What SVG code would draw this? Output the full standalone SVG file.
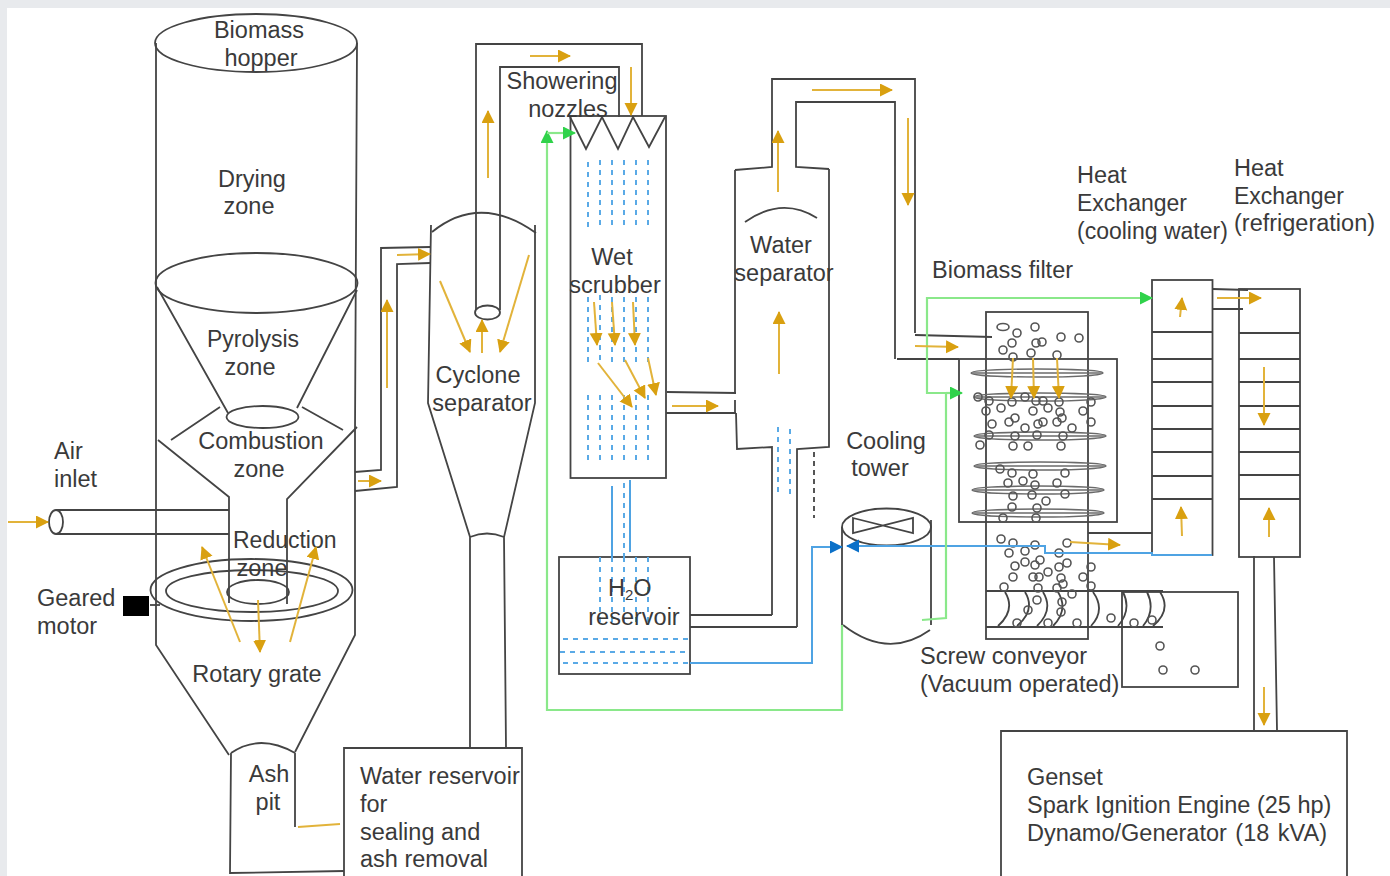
<svg xmlns="http://www.w3.org/2000/svg" width="1390" height="876" viewBox="0 0 1390 876">
<style>
text{font-family:"Liberation Sans",Arial,sans-serif;font-size:23.5px;fill:#3a3a3a}
.s{font-size:23px}
.m{text-anchor:middle}
.l,.l *{fill:none;stroke:#444;stroke-width:1.8}
.b{fill:none;stroke:#444;stroke-width:1.8}
.t,.t *{fill:none;stroke:#6a6a6a;stroke-width:1.4}
.y{fill:none;stroke:#e2b33a;stroke-width:2;marker-end:url(#ya)}
.yn{fill:none;stroke:#e2b33a;stroke-width:2}
.g{fill:none;stroke:#8ae88a;stroke-width:2.2}
.u{fill:none;stroke:#4fa3e3;stroke-width:2}
.d{fill:none;stroke:#5aaae6;stroke-width:2;stroke-dasharray:5 5}
.k{fill:none;stroke:#555;stroke-width:2;stroke-dasharray:5 4}
.p circle,.p ellipse{fill:none;stroke:#555;stroke-width:1.6}
</style>
<defs>
<marker id="ya" markerUnits="userSpaceOnUse" markerWidth="14" markerHeight="14" refX="12" refY="6.5" orient="auto"><path d="M0,0L13,6.5L0,13Z" fill="#d9a010"/></marker>
<marker id="ga" markerUnits="userSpaceOnUse" markerWidth="14" markerHeight="14" refX="12" refY="6.5" orient="auto"><path d="M0,0L13,6.5L0,13Z" fill="#2fd24a"/></marker>
<marker id="ba" markerUnits="userSpaceOnUse" markerWidth="14" markerHeight="14" refX="12" refY="6.5" orient="auto"><path d="M0,0L13,6.5L0,13Z" fill="#0b70c8"/></marker>
</defs>
<rect width="1390" height="876" fill="#e8eaed"/>
<rect x="7" y="8" width="1383" height="868" fill="#fff"/>

<g id="gasifier">
<g class="l">
<ellipse cx="256" cy="43" rx="101" ry="29"/>
<path d="M156,43V645L229,755M357,43L355,432V635L295,752"/>
<ellipse cx="256.500" cy="283" rx="101" ry="30"/>
<path d="M157,287L228,413M357,290L297,408"/>
<ellipse cx="262.500" cy="417" rx="36" ry="11"/>
<path d="M220,407L171,440M302,407L343,430"/>
<path d="M158,440L229,497V603M357,427L287,499V604"/>
<ellipse cx="251.500" cy="590" rx="101" ry="31"/>
<ellipse cx="252" cy="591" rx="86" ry="21"/>
<ellipse cx="258" cy="592" rx="31" ry="12"/>
<path d="M231,753Q260,733 295,753M231,753L230,873L344,871M295,753V827"/>
<path d="M150,605H160"/>
</g>
<rect x="123" y="596" width="26" height="20" fill="#000"/>
<text class="m" x="259" y="38">Biomass</text><text class="m" x="261" y="66">hopper</text>
<text class="m" x="252" y="187">Drying</text><text class="m" x="249" y="214">zone</text>
<text class="m s" x="253" y="347">Pyrolysis</text><text class="m" x="250" y="375">zone</text>
<text class="m" x="261" y="449">Combustion</text><text class="m" x="259" y="477">zone</text>
<text class="s" x="233" y="548">Reduction</text><text class="m" x="262" y="576">zone</text>
<text x="37" y="606">Geared</text><text x="37" y="634">motor</text>
<text class="m" x="257" y="682">Rotary grate</text>
<text class="m" x="269" y="782">Ash</text><text class="m" x="268" y="810">pit</text>
</g>

<g id="air-inlet">
<g class="l"><ellipse cx="56" cy="522" rx="7" ry="12"/><path d="M56,510H229M56,534H229"/></g>
<text x="54" y="459">Air</text><text x="54" y="487">inlet</text>
</g>

<g id="water-reservoir">
<path class="b" d="M344,880V748H522V880"/>
<text x="360" y="784">Water reservoir</text><text x="360" y="812">for</text><text x="360" y="840">sealing and</text><text x="360" y="867">ash removal</text>
</g>

<g id="cyclone">
<g class="l">
<path d="M432,232Q480,193 536,233"/>
<path d="M431,225L428,403L470,537V748M535,225V403L504,537L506,748M470,537Q487,530 504,537"/>
<ellipse cx="487.500" cy="312.500" rx="12.500" ry="7"/>
</g>
<text class="m" x="478" y="383">Cyclone</text><text class="m" x="482" y="411">separator</text>
</g>

<g id="scrubber">
<rect class="b" x="570.500" y="116" width="95.500" height="362"/>
<path class="b" d="M570,117L586,149L602,117L618,149L633,117L649,147L665,117"/>
<g class="d">
<path d="M588,162V230M600,160V230M612,160V230M624,160V230M636,160V230M648,160V230"/>
<path d="M588,297V363M600,295V363M612,297V363M624,297V363M636,297V363M648,297V363"/>
<path d="M588,395V463M600,395V463M612,395V463M624,395V463M636,395V463M648,395V463"/>
</g>
<text class="m" x="562" y="89">Showering</text><text class="m" x="568" y="117">nozzles</text>
<text class="m" x="612" y="265">Wet</text><text class="m" x="615" y="293">scrubber</text>
</g>

<g id="water-separator">
<path class="b" d="M735,170V392M735,400V413M736,413L737,449L772,447V615M829,169V447L797,449V627M735,170L772,167V79H915V333M829,169L796,167V102H895V359"/>
<path class="b" d="M745,222Q782,196 817,218"/>
<path class="d" d="M778,427V493M790,429V497"/>
<path class="k" d="M814,452V518"/>
<text class="m" x="781" y="253">Water</text><text class="m" x="784" y="281">separator</text>
</g>

<g id="h2o-reservoir">
<rect class="b" x="559" y="557" width="131" height="117"/>
<g class="d">
<path d="M600,557V623M612,557V623M624,557V623M636,557V623M648,557V623"/>
<path d="M563,639H689M560,652H685M563,663H689"/>
</g>
<text x="608" y="596">H<tspan font-size="15" dy="4">2</tspan><tspan dy="-4">O</tspan></text>
<text class="m" x="634" y="625">reservoir</text>
</g>

<g id="cooling-tower">
<g class="l">
<ellipse cx="886.500" cy="527" rx="44.500" ry="18.500"/>
<path d="M842,527V625M931,520V625"/>
<path d="M843,625Q888,660 930,630"/>
<path d="M853,518L913,533V518L853,533Z"/>
</g>
<text class="m" x="886" y="449">Cooling</text><text class="m" x="880" y="476">tower</text>
</g>

<g id="biomass-filter">
<g class="l">
<rect x="986" y="312" width="102" height="327"/>
<rect x="959" y="359" width="158" height="163"/>
<path d="M986,591H1163M986,627H1163"/>
<rect x="1122" y="592" width="116" height="95"/>
</g>
<g class="t">
<ellipse cx="1037" cy="373" rx="66" ry="4"/><path d="M971,373H1103"/>
<ellipse cx="1040" cy="397" rx="66" ry="4"/><path d="M974,397H1106"/>
<ellipse cx="1040" cy="436" rx="66" ry="4"/><path d="M974,436H1106"/>
<ellipse cx="1040" cy="466" rx="66" ry="4"/><path d="M974,466H1106"/>
<ellipse cx="1038" cy="490" rx="66" ry="4"/><path d="M972,490H1104"/>
<ellipse cx="1038" cy="513" rx="66" ry="4"/><path d="M972,513H1104"/>
</g>
<path class="b" d="M1005,592Q1016,610 998,626M1025,592Q1036,610 1017,626M1043,592Q1054,610 1037,626M1058,592Q1069,610 1053,626M1093,592Q1106,610 1091,626M1123,592Q1132,610 1118,626M1147,592Q1156,610 1143,626M1160,592Q1172,610 1153,626"/>
<g class="p">
<ellipse cx="1003" cy="327" rx="6" ry="3.500"/>
<circle cx="1035" cy="327" r="4"/><circle cx="1017" cy="333" r="4"/><circle cx="1012" cy="343" r="4"/><circle cx="1042" cy="342" r="4"/><circle cx="1036" cy="343" r="4"/><circle cx="1061" cy="337" r="4"/><circle cx="1079" cy="338" r="4"/><circle cx="1003" cy="350" r="4"/><circle cx="1031" cy="353" r="4"/><circle cx="1013" cy="357" r="4"/><circle cx="1057" cy="355" r="4"/>
<circle cx="978" cy="397" r="4"/><circle cx="989" cy="401" r="4"/><circle cx="1025" cy="397" r="4"/><circle cx="1036" cy="401" r="4"/><circle cx="1043" cy="401" r="4"/><circle cx="1012" cy="402" r="4"/><circle cx="1059" cy="402" r="4"/><circle cx="1091" cy="402" r="4"/><circle cx="986" cy="411" r="4"/><circle cx="1001" cy="408" r="4"/><circle cx="1033" cy="411" r="4"/><circle cx="1048" cy="408" r="4"/><circle cx="1060" cy="412" r="4"/><circle cx="1083" cy="411" r="4"/><circle cx="1015" cy="418" r="4"/><circle cx="1062" cy="418" r="4"/><circle cx="992" cy="424" r="4"/><circle cx="1009" cy="422" r="4"/><circle cx="1043" cy="422" r="4"/><circle cx="1057" cy="422" r="4"/><circle cx="1038" cy="424" r="4"/><circle cx="1025" cy="428" r="4"/><circle cx="1072" cy="428" r="4"/><circle cx="1091" cy="422" r="4"/><circle cx="989" cy="435" r="4"/><circle cx="1015" cy="436" r="4"/><circle cx="1037" cy="435" r="4"/><circle cx="1063" cy="436" r="4"/><circle cx="980" cy="445" r="4"/><circle cx="1013" cy="446" r="4"/><circle cx="1028" cy="446" r="4"/><circle cx="1061" cy="446" r="4"/>
<circle cx="1000" cy="469" r="4"/><circle cx="1012" cy="473" r="4"/><circle cx="1033" cy="474" r="4"/><circle cx="1065" cy="473" r="4"/><circle cx="1023" cy="481" r="4"/><circle cx="1008" cy="483" r="4"/><circle cx="1035" cy="485" r="4"/><circle cx="1057" cy="483" r="4"/><circle cx="1013" cy="496" r="4"/><circle cx="1032" cy="495" r="4"/><circle cx="1065" cy="494" r="4"/><circle cx="1046" cy="501" r="4"/><circle cx="1012" cy="507" r="4"/><circle cx="1037" cy="508" r="4"/><circle cx="1003" cy="518" r="4"/><circle cx="1036" cy="518" r="4"/>
<circle cx="1001" cy="539" r="4"/><circle cx="1013" cy="543" r="4"/><circle cx="1035" cy="545" r="4"/><circle cx="1067" cy="543" r="4"/><circle cx="1025" cy="551" r="4"/><circle cx="1009" cy="553" r="4"/><circle cx="1059" cy="553" r="4"/><circle cx="1040" cy="560" r="4"/><circle cx="1025" cy="562" r="4"/><circle cx="1015" cy="566" r="4"/><circle cx="1035" cy="565" r="4"/><circle cx="1067" cy="563" r="4"/><circle cx="1059" cy="567" r="4"/><circle cx="1091" cy="567" r="4"/><circle cx="1048" cy="572" r="4"/><circle cx="1013" cy="577" r="4"/><circle cx="1033" cy="577" r="4"/><circle cx="1039" cy="577" r="4"/><circle cx="1061" cy="578" r="4"/><circle cx="1083" cy="577" r="4"/><circle cx="1063" cy="584" r="4"/><circle cx="1004" cy="587" r="4"/><circle cx="1038" cy="588" r="4"/><circle cx="1057" cy="588" r="4"/><circle cx="1091" cy="586" r="4"/><circle cx="1072" cy="594" r="4"/><circle cx="1037" cy="600" r="4"/><circle cx="1062" cy="602" r="4"/><circle cx="1028" cy="610" r="4"/><circle cx="1061" cy="612" r="4"/><circle cx="1111" cy="618" r="4"/><circle cx="1152" cy="620" r="4"/><circle cx="1017" cy="623" r="4"/><circle cx="1048" cy="623" r="4"/><circle cx="1077" cy="623" r="4"/><circle cx="1134" cy="623" r="4"/><circle cx="1160" cy="646" r="4"/><circle cx="1163" cy="670" r="4"/><circle cx="1195" cy="670" r="4"/>
</g>
<text x="932" y="278">Biomass filter</text>
<text x="920" y="664">Screw conveyor</text><text x="920" y="692">(Vacuum operated)</text>
</g>

<g id="heat-exchanger-1">
<rect class="b" x="1152" y="280" width="60.500" height="275"/>
<path class="b" d="M1152,332H1212M1152,359H1212M1152,382H1212M1152,406H1212M1152,429H1212M1152,452H1212M1152,476H1212M1152,499H1212"/>
<text x="1077" y="183">Heat</text><text class="s" x="1077" y="211">Exchanger</text><text class="s" x="1077" y="239">(cooling water)</text>
</g>

<g id="heat-exchanger-2">
<rect class="b" x="1239" y="289" width="61" height="268"/>
<path class="b" d="M1239,333H1300M1239,359H1300M1239,382H1300M1239,406H1300M1239,429H1300M1239,452H1300M1239,475H1300M1239,499H1300"/>
<text x="1234" y="176">Heat</text><text class="s" x="1234" y="204">Exchanger</text><text x="1234" y="231">(refrigeration)</text>
</g>

<g id="genset">
<path class="b" d="M1001,880V731H1347V880"/>
<text x="1027" y="785">Genset</text><text x="1027" y="813">Spark Ignition Engine (25 hp)</text><text x="1027" y="841" word-spacing="2">Dynamo/Generator (18 kVA)</text>
</g>

<g id="connectors">
<g class="b">
<path d="M355,472L381,470V248L430,247M355,491L397,487V264L430,263"/>
<path d="M476,310V44H642V116M500,310V67H619V117"/>
<path d="M667,392L736,393M666,413H736"/>
<path d="M690,615H772M690,627H797"/>
<path d="M915,335L992,337M897,359H959"/>
<path d="M1088,533H1152"/>
<path d="M1213,289L1248,290M1213,309H1243"/>
<path d="M1254,556V730M1274,557L1277,730"/>
</g>
<g>
<path class="u" d="M612,486V557M630,480V552"/>
<path class="d" d="M624,483V557"/>
<path class="u" d="M690,663H812V547H842" marker-end="url(#ba)"/>
<path class="u" d="M1212,555H1152V553H1045V546H847" marker-end="url(#ba)"/>
</g>
<g>
<path class="g" d="M842,625V710H547V131" marker-end="url(#ga)"/>
<path class="g" d="M547,133H575" marker-end="url(#ga)"/>
<path class="g" d="M922,620L946,618V393H927V298H1152" marker-end="url(#ga)"/>
<path class="g" d="M946,393H962" marker-end="url(#ga)"/>
</g>
<g>
<path class="y" d="M8,522H48"/>
<path class="y" d="M240,642L202,547"/>
<path class="y" d="M258,600L260,652"/>
<path class="y" d="M290,642L316,547"/>
<path class="yn" d="M298,827L340,824"/>
<path class="y" d="M358,481H381"/>
<path class="y" d="M387,388V300"/>
<path class="y" d="M397,255L430,254"/>
<path class="y" d="M440,281L470,352"/>
<path class="y" d="M482,353V320"/>
<path class="y" d="M529,255L500,352"/>
<path class="y" d="M488,178V111"/>
<path class="y" d="M530,56H570"/>
<path class="y" d="M631,67V115"/>
<path class="y" d="M594,302L597,345"/>
<path class="y" d="M612,302L615,345"/>
<path class="y" d="M633,302L635,345"/>
<path class="y" d="M598,363L632,407"/>
<path class="y" d="M625,360L645,398"/>
<path class="y" d="M648,358L656,395"/>
<path class="y" d="M672,406H718"/>
<path class="y" d="M778,192V131"/>
<path class="y" d="M779,374V312"/>
<path class="y" d="M812,90H892"/>
<path class="y" d="M908,118V205"/>
<path class="y" d="M915,346L958,347"/>
<path class="y" d="M1013,358L1011,398"/>
<path class="y" d="M1033,358L1034,398"/>
<path class="y" d="M1057,358L1059,398"/>
<path class="y" d="M1070,542L1120,545"/>
<path class="y" d="M1180,317L1182,298"/>
<path class="y" d="M1182,536L1181,507"/>
<path class="y" d="M1217,298H1261"/>
<path class="y" d="M1264,367V425"/>
<path class="y" d="M1269,537V508"/>
<path class="y" d="M1264,687V725"/>
</g>
</g>
</svg>
